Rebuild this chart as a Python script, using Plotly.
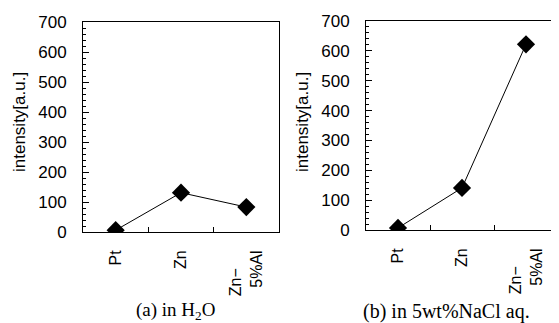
import plotly.graph_objects as go

categories = ["Pt", "Zn", "Zn−5%Al"]
tick_labels = ["Pt", "Zn", "Zn−\u00a0\u00a0\u00a0\u00a0<br>5%Al"]
intensity_h2o = [6, 131, 83]
intensity_nacl = [7, 141, 622]
captions = ["(a) in H<sub>2</sub>O", "(b) in 5wt%NaCl aq."]
y_title = "intensity[a.u.]"

W, H = 551, 315  # page body adds 8px margin

def px_x(p):
    return (p - 8) / W

def px_y(p):
    return 1 - (p - 8) / H

fig = go.Figure()
fig.add_trace(go.Scatter(x=categories, y=intensity_h2o, mode="lines+markers",
                         line=dict(color="black", width=1),
                         marker=dict(symbol="diamond", size=14, color="black"),
                         xaxis="x", yaxis="y", showlegend=False))
fig.add_trace(go.Scatter(x=categories, y=intensity_nacl, mode="lines+markers",
                         line=dict(color="black", width=1),
                         marker=dict(symbol="diamond", size=14, color="black"),
                         xaxis="x2", yaxis="y2", showlegend=False))

sans = "Liberation Sans, Arial, sans-serif"
serif = "Liberation Serif, Times New Roman, serif"

xcommon = dict(type="category", categoryorder="array", categoryarray=categories,
               tickvals=categories, ticktext=tick_labels, tickangle=-90,
               tickson="boundaries", ticks="inside", ticklen=5, tickcolor="black",
               showline=True, linecolor="black", linewidth=1, mirror=True,
               showgrid=False, zeroline=False,
               tickfont=dict(family=sans, size=16, color="black"),
               range=[-0.5, 2.5], automargin=False, ticklabelstandoff=11)
ycommon = dict(range=[0, 700], dtick=100, ticks="inside", ticklen=6, tickcolor="black",
               minor=dict(dtick=20, ticks="inside", ticklen=3, tickcolor="black"),
               showline=True, linecolor="black", linewidth=1, mirror=True,
               showgrid=False, zeroline=False,
               tickfont=dict(family=sans, size=17, color="black"),
               automargin=False, ticklabelstandoff=12)

ann = dict(xref="paper", yref="paper", showarrow=False, xanchor="center", yanchor="middle")

fig.update_layout(
    width=W, height=H,
    margin=dict(l=0, r=0, t=0, b=0),
    paper_bgcolor="white", plot_bgcolor="white",
    xaxis=dict(domain=[px_x(83), px_x(279)], anchor="y", **xcommon),
    yaxis=dict(domain=[px_y(232), px_y(22)], anchor="x", **ycommon),
    xaxis2=dict(domain=[px_x(366), px_x(558)], anchor="y2", **xcommon),
    yaxis2=dict(domain=[px_y(230), px_y(21)], anchor="x2", **ycommon),
    annotations=[
        dict(text=y_title, textangle=-90, x=px_x(19), y=px_y(122),
             font=dict(family=sans, size=17, color="black"), **ann),
        dict(text=y_title, textangle=-90, x=px_x(302), y=px_y(122),
             font=dict(family=sans, size=17, color="black"), **ann),
        dict(text=captions[0], x=px_x(175), y=px_y(311),
             font=dict(family=serif, size=19, color="black"), **ann),
        dict(text=captions[1], x=px_x(446), y=px_y(311),
             font=dict(family=serif, size=20, color="black"), **ann),
    ],
)

fig.write_html("out.html")
